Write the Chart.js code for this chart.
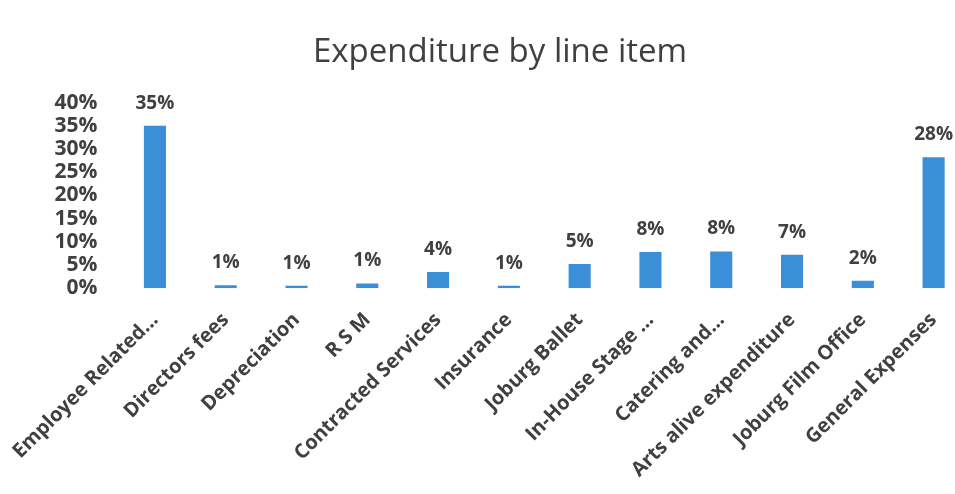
<!DOCTYPE html>
<html>
<head>
<meta charset="utf-8">
<script src="https://cdn.jsdelivr.net/npm/chart.js@4/dist/chart.umd.min.js"></script>
<style>
  html, body { margin: 0; padding: 0; background: #fff; overflow: hidden; }
  #wrap { width: 972px; height: 494px; position: relative; }
</style>
</head>
<body>
<div id="wrap"><canvas id="expChart"></canvas></div>
<script>
const categories = ['Employee Related...', 'Directors fees', 'Depreciation', 'R S M', 'Contracted Services', 'Insurance',
  'Joburg Ballet', 'In-House Stage ...', 'Catering and...', 'Arts alive expenditure', 'Joburg Film Office', 'General Expenses'];
const shares = [35, 0.6, 0.5, 1.0, 3.5, 0.5, 5.2, 7.8, 7.9, 7.2, 1.6, 28.2];
const shareLabels = ['35%', '1%', '1%', '1%', '4%', '1%', '5%', '8%', '8%', '7%', '2%', '28%'];
const yTicks = [0, 5, 10, 15, 20, 25, 30, 35, 40];

// draws the % text above each bar
const barLabels = {
  id: 'barLabels',
  afterDatasetsDraw(chart) {
    const ctx = chart.ctx;
    const meta = chart.getDatasetMeta(0);
    ctx.save();
    ctx.font = 'bold 19px "Open Sans"';
    ctx.fillStyle = '#404040';
    ctx.textAlign = 'center';
    ctx.textBaseline = 'bottom';
    meta.data.forEach((bar, i) => {
      ctx.fillText(shareLabels[i], bar.x, bar.y - 13);
    });
    ctx.restore();
  }
};

const expConfig = {
  type: 'bar',
  data: {
    labels: categories,
    datasets: [{
      label: 'Expenditure',
      data: shares,
      backgroundColor: '#3a8fd8',
      barPercentage: 0.6,
      categoryPercentage: 0.52
    }]
  },
  options: {
    responsive: true,
    maintainAspectRatio: false,
    animation: false,
    layout: { padding: { left: 31, right: 3, top: 18, bottom: 0 } },
    plugins: {
      legend: { display: false },
      tooltip: { enabled: false },
      title: {
        display: true,
        text: 'Expenditure by line item',
        color: '#404040',
        font: { family: 'Open Sans', size: 33, weight: 'normal' },
        padding: { top: 15, bottom: 30 }
      }
    },
    scales: {
      x: {
        grid: { display: false },
        border: { display: false },
        ticks: {
          autoSkip: false,
          maxRotation: 45,
          minRotation: 45,
          color: '#404040',
          padding: 12,
          font: { family: 'Open Sans', size: 20, weight: 'bold' }
        }
      },
      y: {
        min: 0,
        max: 40,
        afterBuildTicks(axis) {
          axis.ticks = yTicks.map(v => ({ value: v }));
        },
        grid: { display: false },
        border: { display: false },
        ticks: {
          autoSkip: false,
          color: '#404040',
          padding: 14,
          font: { family: 'Open Sans', size: 21, weight: 'bold' },
          callback: v => v + '%'
        }
      }
    }
  },
  plugins: [barLabels]
};

const expChart = new Chart(document.getElementById('expChart'), expConfig);
</script>
</body>
</html>
